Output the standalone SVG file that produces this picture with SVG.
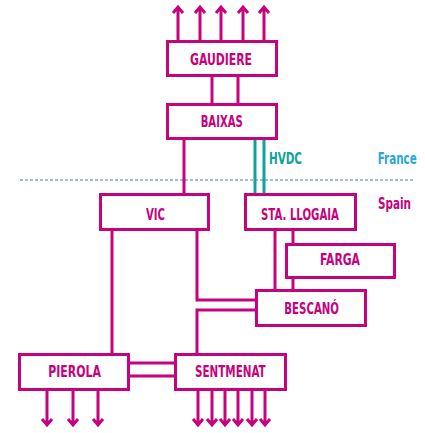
<svg xmlns="http://www.w3.org/2000/svg" width="425" height="433" viewBox="0 0 425 433">
<style>
.box{fill:#fff;stroke:#C4037D;stroke-width:3}
.lbl{font-family:"DejaVu Sans Condensed","Liberation Sans Narrow",sans-serif;font-stretch:condensed;font-weight:bold;font-size:16.5px;fill:#C4037D}
.ln{fill:none;stroke:#C4037D;stroke-width:3}
.hv{fill:none;stroke:#0FA39A;stroke-width:3}
.arr{fill:none;stroke:#C4037D;stroke-width:3;stroke-linejoin:miter}
.note{font-family:"DejaVu Sans Condensed","Liberation Sans Narrow",sans-serif;font-stretch:condensed;font-weight:bold;font-size:16px}
</style>
<rect width="425" height="433" fill="#fff"/>
<line x1="20" y1="180" x2="415" y2="180" stroke="#4F7BC0" stroke-width="1.2" stroke-dasharray="3,2"/>
<text class="note" x="269" y="164" fill="#0FA39A" textLength="33" lengthAdjust="spacingAndGlyphs">HVDC</text>
<text class="note" x="416.7" y="164" fill="#2BA6DE" text-anchor="end" style="font-size:15px" textLength="39" lengthAdjust="spacingAndGlyphs">France</text>
<text class="note" x="411" y="209" fill="#C4037D" text-anchor="end" textLength="33" lengthAdjust="spacingAndGlyphs">Spain</text>
<g id="connectors">
<path class="arr" d="M178 41V7M173 13L178 7L183 13"/>
<path class="arr" d="M200 41V7M195 13L200 7L205 13"/>
<path class="arr" d="M221 41V7M216 13L221 7L226 13"/>
<path class="arr" d="M243 41V7M238 13L243 7L248 13"/>
<path class="arr" d="M264 41V7M259 13L264 7L269 13"/>
<path class="ln" d="M212 76V104M238 76V104"/>
<path class="ln" d="M184 140V194"/>
<path class="hv" d="M255 140V194M264 140V194"/>
<path class="ln" d="M112 231V354"/>
<path class="ln" d="M197 231V300H256"/>
<path class="ln" d="M256 310H197V354"/>
<path class="ln" d="M275 231V290"/>
<path class="ln" d="M293 231V244M293 278V290"/>
<path class="ln" d="M130 363H175M130 376H175"/>
<path class="arr" d="M47 391V425M42 419L47 425L52 419"/>
<path class="arr" d="M73 391V425M68 419L73 425L78 419"/>
<path class="arr" d="M98 391V425M93 419L98 425L103 419"/>
<path class="arr" d="M198 391V425M193 419L198 425L203 419"/>
<path class="arr" d="M212 391V425M207 419L212 425L217 419"/>
<path class="arr" d="M225 391V425M220 419L225 425L230 419"/>
<path class="arr" d="M238 391V425M233 419L238 425L243 419"/>
<path class="arr" d="M252 391V425M247 419L252 425L257 419"/>
<path class="arr" d="M265 391V425M260 419L265 425L270 419"/>
</g>
<g id="gaudiere"><rect class="box" x="167.5" y="41.5" width="109" height="34"/><text class="lbl" x="190" y="64.5" textLength="62" lengthAdjust="spacingAndGlyphs">GAUDIERE</text></g>
<g id="baixas"><rect class="box" x="167.5" y="104.5" width="109" height="34"/><text class="lbl" x="200.7" y="127" textLength="42" lengthAdjust="spacingAndGlyphs">BAIXAS</text></g>
<g id="vic"><rect class="box" x="100.5" y="194.5" width="108" height="35"/><text class="lbl" x="146" y="220" textLength="19" lengthAdjust="spacingAndGlyphs">VIC</text></g>
<g id="sta-llogaia"><rect class="box" x="245.5" y="194.5" width="110" height="35"/><text class="lbl" x="261" y="220" textLength="78" lengthAdjust="spacingAndGlyphs">STA. LLOGAIA</text></g>
<g id="farga"><rect class="box" x="286.5" y="244.5" width="108" height="33"/><text class="lbl" x="320" y="265" textLength="40" lengthAdjust="spacingAndGlyphs">FARGA</text></g>
<g id="bescano"><rect class="box" x="256.5" y="290.5" width="109" height="35"/><text class="lbl" x="284.3" y="314" textLength="54.7" lengthAdjust="spacingAndGlyphs">BESCANÓ</text></g>
<g id="pierola"><rect class="box" x="19.5" y="354.5" width="109" height="35"/><text class="lbl" x="48.3" y="377" textLength="52.7" lengthAdjust="spacingAndGlyphs">PIEROLA</text></g>
<g id="sentmenat"><rect class="box" x="175.5" y="354.5" width="110" height="35"/><text class="lbl" x="195" y="377" textLength="70.7" lengthAdjust="spacingAndGlyphs">SENTMENAT</text></g>
</svg>
